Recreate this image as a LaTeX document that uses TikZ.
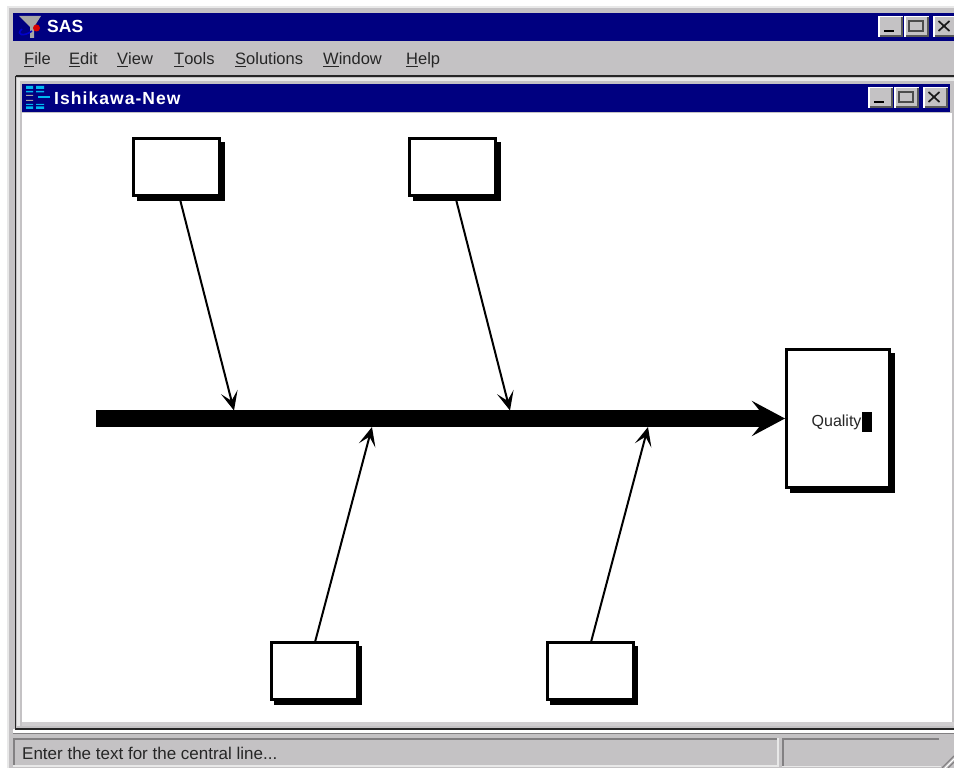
\documentclass[tikz,border=0pt]{standalone}
\usepackage{fontspec}
\setmainfont{Liberation Sans}
\usetikzlibrary{arrows.meta}
\definecolor{wingray}{HTML}{C4C2C4}
\definecolor{winblue}{HTML}{000080}
\definecolor{windark}{HTML}{828082}
\definecolor{winlight}{HTML}{E8E8E8}
\definecolor{iconcyan}{HTML}{00B8F0}
\tikzset{
  fishbox/.style={draw=black,line width=2.6pt,fill=white,inner sep=0pt,anchor=north west},
  boxshadow/.style={fill=black},
  branch/.style={draw=black,line width=2pt,-{Stealth[length=19pt,width=17pt,inset=9pt]}},
  spine/.style={draw=black,line width=17pt,-{Stealth[length=33pt,width=35pt,inset=14pt]}},
  titletext/.style={text=white,font=\fontsize{17.5}{18}\selectfont\bfseries,anchor=base west,inner sep=0pt},
  menutext/.style={text=black!85,font=\fontsize{16.5}{18}\selectfont,anchor=base west,inner sep=0pt},
  infotext/.style={anchor=base west,inner sep=0pt,text=black!85},
}
\newcommand{\winbtn}[5]{% x0,y0,x1,y1,kind
  \fill[white] (#1,#2) rectangle (#3,#4);
  \fill[black!65] (#1+1.5,#2+1.5) rectangle (#3,#4);
  \fill[wingray] (#1+1.5,#2+1.5) rectangle (#3-2,#4-2);
  \ifcase#5\relax
    \fill[black] (#1+6,#4-7) rectangle (#1+16,#4-4.5);
  \or
    \draw[black!70,line width=1.2pt] (#1+5,#2+5) rectangle (#3-6,#4-6);
    \draw[black!70,line width=1.4pt] (#1+5,#2+5.5) -- (#3-6,#2+5.5);
  \or
    \draw[black!90,line width=1.7pt] (#1+5.5,#2+5) -- (#1+16.5,#4-6) (#1+16.5,#2+5) -- (#1+5.5,#4-6);
  \fi
}
\begin{document}
\begin{tikzpicture}[x=1pt,y=-1pt]
\useasboundingbox (0,0) rectangle (954,768);
% window chrome
\fill[white] (0,0) rectangle (954,768);
\fill[wingray] (7,6) rectangle (954,768);
\fill[winlight] (7,6) rectangle (954,8);
\fill[winlight] (7,6) rectangle (9,768);
\fill[winblue] (13,13) rectangle (954,41);
\draw[black!85,line width=1.4pt] (15.5,76) -- (954,76);
\draw[black!85,line width=1.4pt] (15.5,76) -- (15.5,729);
\fill[winlight] (17,78) rectangle (954,81);
\fill[winlight] (17,78) rectangle (20,726);
\fill[winblue] (22,84) rectangle (950,112);
\fill[white] (22,113) rectangle (952,722);
\fill[wingray!80!white] (22,722) rectangle (954,726);
\fill[wingray] (952,113) rectangle (954,722);
\fill[white] (13,729) rectangle (954,734);
\draw[black!85,line width=1.6pt] (15,729) -- (954,729);
\draw[windark,line width=1.2pt] (13,733.5) -- (954,733.5);
\fill[wingray] (13,735) rectangle (954,768);
% status bar
\fill[windark] (13,738) rectangle (778,740);
\fill[windark] (13,738) rectangle (15,765);
\fill[winlight] (13,765) rectangle (778,767);
\fill[winlight] (777,738) rectangle (779,767);
\fill[windark] (782,738) rectangle (939,740);
\fill[windark] (782,738) rectangle (784,766);
\fill[winlight] (782,765.5) rectangle (941,767);
\draw[windark,line width=1.2pt] (942,768) -- (954,756) (948,768) -- (954,762);
\draw[white,line width=1pt] (945,768) -- (954,759);
% title bar icons
\fill[gray!70] (19,16) -- (41,16) -- (34,27) -- (34,38) -- (30,38) -- (30,27) -- cycle;
\draw[blue!80!black,line width=1.6pt] (22,29) .. controls (15,35) and (24,37) .. (32,31);
\fill[red!85!black] (36.5,28) circle (3.5);
\fill[iconcyan] (26,86) rectangle (33,89) (36,86) rectangle (44,89);
\fill[iconcyan] (26,91) rectangle (33,92.5) (36,91) rectangle (44,92.5);
\fill[gray!70] (26,95) rectangle (33,96) (26,100) rectangle (33,101);
\fill[iconcyan] (38,96.5) rectangle (50,98.5);
\fill[iconcyan] (26,104) rectangle (33,105) (36,104) rectangle (44,105);
\fill[iconcyan] (26,106.5) rectangle (33,109) (36,106.5) rectangle (44,109);
% captions
\node[titletext] (sastitle) at (47,32.5) {SAS};
\node[titletext,font=\fontsize{17.5}{18}\selectfont\bfseries\addfontfeature{LetterSpace=6}] (ishititle) at (54,104) {Ishikawa-New};
% menu
\node[menutext] (mfile) at (24,64.5) {\underline{F}ile};
\node[menutext] (medit) at (69,64.5) {\underline{E}dit};
\node[menutext] (mview) at (117,64.5) {\underline{V}iew};
\node[menutext] (mtools) at (174,64.5) {\underline{T}ools};
\node[menutext] (msol) at (235,64.5) {\underline{S}olutions};
\node[menutext] (mwin) at (323,64.5) {\underline{W}indow};
\node[menutext] (mhelp) at (406,64.5) {\underline{H}elp};
% caption buttons
\winbtn{878}{16}{903}{37}{0}
\winbtn{904}{16}{929}{37}{1}
\winbtn{933}{16}{958}{37}{2}
\winbtn{868}{87}{893}{108}{0}
\winbtn{894}{87}{919}{108}{1}
\winbtn{923}{87}{948}{108}{2}
% shadows
\fill[boxshadow] (137,142) rectangle (225,201);
\fill[boxshadow] (413,142) rectangle (501,201);
\fill[boxshadow] (274,646) rectangle (362,705);
\fill[boxshadow] (550,646) rectangle (638,705);
\fill[boxshadow] (790,353) rectangle (895,493);
% boxes
\node[fishbox,minimum width=86pt,minimum height=57pt] (t1) at (132,137) {};
\node[fishbox,minimum width=86pt,minimum height=57pt] (t2) at (408,137) {};
\node[fishbox,minimum width=86pt,minimum height=57pt] (b1) at (270,641) {};
\node[fishbox,minimum width=86pt,minimum height=57pt] (b2) at (546,641) {};
\node[fishbox,minimum width=103pt,minimum height=138pt] (head) at (785,348) {};
% connector end points on the spine
\coordinate (tail) at (96,418.5);
\coordinate (j1) at (234,410.5);
\coordinate (j2) at (510,410.5);
\coordinate (j3) at (372,427);
\coordinate (j4) at (648,427);
\draw[spine] (tail) -- (head.west |- tail);
\draw[branch] ([xshift=3pt]t1.south) -- (j1);
\draw[branch] ([xshift=3pt]t2.south) -- (j2);
\draw[branch] ([xshift=1pt]b1.north) -- (j3);
\draw[branch] ([xshift=1pt]b2.north) -- (j4);
% text in the head
\node[infotext,font=\fontsize{16}{18}\selectfont] (q) at (811.5,426) {Quality};
\fill[black] (862,411.5) rectangle (872,432);
% status text
\node[infotext,font=\fontsize{17}{18}\selectfont] (status) at (22,759) {Enter the text for the central line...};
\end{tikzpicture}
\end{document}
